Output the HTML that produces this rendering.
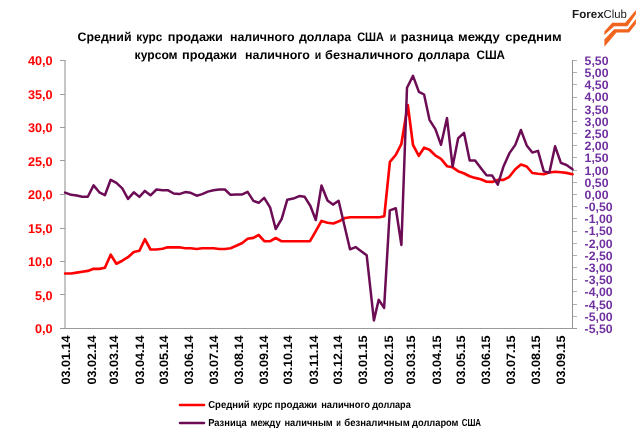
<!DOCTYPE html>
<html lang="ru"><head><meta charset="utf-8"><title>ForexClub</title>
<style>
html,body{margin:0;padding:0;background:#fff;}
body{width:644px;height:433px;overflow:hidden;font-family:"Liberation Sans",sans-serif;}
svg{display:block;will-change:transform}
text{font-family:"Liberation Sans",sans-serif;font-weight:bold;text-rendering:geometricPrecision}
</style></head><body>
<svg width="644" height="433" viewBox="0 0 644 433">
<rect width="644" height="433" fill="#fff"/>

<g font-size="12.3" fill="#000">
<text x="77.6" y="41.3" textLength="53.9" lengthAdjust="spacingAndGlyphs">Средний</text>
<text x="136.3" y="41.3" textLength="26.1" lengthAdjust="spacingAndGlyphs">курс</text>
<text x="167.8" y="41.3" textLength="55.0" lengthAdjust="spacingAndGlyphs">продажи</text>
<text x="230.0" y="41.3" textLength="64.6" lengthAdjust="spacingAndGlyphs">наличного</text>
<text x="298.9" y="41.3" textLength="52.4" lengthAdjust="spacingAndGlyphs">доллара</text>
<text x="357.2" y="41.3" textLength="26.7" lengthAdjust="spacingAndGlyphs">США</text>
<text x="389.8" y="41.3" textLength="6.5" lengthAdjust="spacingAndGlyphs">и</text>
<text x="400.7" y="41.3" textLength="52.8" lengthAdjust="spacingAndGlyphs">разница</text>
<text x="458.0" y="41.3" textLength="41.8" lengthAdjust="spacingAndGlyphs">между</text>
<text x="505.3" y="41.3" textLength="56.3" lengthAdjust="spacingAndGlyphs">средним</text>
<text x="134.6" y="58.7" textLength="43.0" lengthAdjust="spacingAndGlyphs">курсом</text>
<text x="182.0" y="58.7" textLength="55.0" lengthAdjust="spacingAndGlyphs">продажи</text>
<text x="245.0" y="58.7" textLength="64.8" lengthAdjust="spacingAndGlyphs">наличного</text>
<text x="314.8" y="58.7" textLength="6.5" lengthAdjust="spacingAndGlyphs">и</text>
<text x="325.0" y="58.7" textLength="88.3" lengthAdjust="spacingAndGlyphs">безналичного</text>
<text x="418.0" y="58.7" textLength="51.6" lengthAdjust="spacingAndGlyphs">доллара</text>
<text x="476.5" y="58.7" textLength="28.5" lengthAdjust="spacingAndGlyphs">США</text>
</g>
<g shape-rendering="crispEdges">
<rect x="64" y="60" width="2" height="269" fill="#c6c6c6"/>
<rect x="572" y="60" width="1" height="269" fill="#939393"/>
<rect x="60" y="328" width="517" height="1" fill="#9a9a9a"/>
<rect x="60" y="60" width="5" height="1" fill="#9c9c9c"/>
<rect x="60" y="94" width="5" height="1" fill="#9c9c9c"/>
<rect x="60" y="127" width="5" height="1" fill="#9c9c9c"/>
<rect x="60" y="160" width="5" height="1" fill="#9c9c9c"/>
<rect x="60" y="194" width="5" height="1" fill="#9c9c9c"/>
<rect x="60" y="228" width="5" height="1" fill="#9c9c9c"/>
<rect x="60" y="261" width="5" height="1" fill="#9c9c9c"/>
<rect x="60" y="294" width="5" height="1" fill="#9c9c9c"/>
<rect x="573" y="60" width="4" height="1" fill="#b0b0b0"/>
<rect x="573" y="72" width="4" height="1" fill="#b0b0b0"/>
<rect x="573" y="84" width="4" height="1" fill="#b0b0b0"/>
<rect x="573" y="97" width="4" height="1" fill="#b0b0b0"/>
<rect x="573" y="109" width="4" height="1" fill="#b0b0b0"/>
<rect x="573" y="121" width="4" height="1" fill="#b0b0b0"/>
<rect x="573" y="133" width="4" height="1" fill="#b0b0b0"/>
<rect x="573" y="145" width="4" height="1" fill="#b0b0b0"/>
<rect x="573" y="157" width="4" height="1" fill="#b0b0b0"/>
<rect x="573" y="170" width="4" height="1" fill="#b0b0b0"/>
<rect x="573" y="182" width="4" height="1" fill="#b0b0b0"/>
<rect x="573" y="194" width="4" height="1" fill="#b0b0b0"/>
<rect x="573" y="206" width="4" height="1" fill="#b0b0b0"/>
<rect x="573" y="218" width="4" height="1" fill="#b0b0b0"/>
<rect x="573" y="231" width="4" height="1" fill="#b0b0b0"/>
<rect x="573" y="243" width="4" height="1" fill="#b0b0b0"/>
<rect x="573" y="255" width="4" height="1" fill="#b0b0b0"/>
<rect x="573" y="267" width="4" height="1" fill="#b0b0b0"/>
<rect x="573" y="279" width="4" height="1" fill="#b0b0b0"/>
<rect x="573" y="291" width="4" height="1" fill="#b0b0b0"/>
<rect x="573" y="304" width="4" height="1" fill="#b0b0b0"/>
<rect x="573" y="316" width="4" height="1" fill="#b0b0b0"/>
</g>
<g font-size="12.7" fill="#ff0000" text-anchor="end">
<text x="52.6" y="65.0">40,0</text>
<text x="52.6" y="98.5">35,0</text>
<text x="52.6" y="132.0">30,0</text>
<text x="52.6" y="165.5">25,0</text>
<text x="52.6" y="199.0">20,0</text>
<text x="52.6" y="232.5">15,0</text>
<text x="52.6" y="266.0">10,0</text>
<text x="52.6" y="299.5">5,0</text>
<text x="52.6" y="333.0">0,0</text>
</g>
<g font-size="12.3" fill="#7030a0">
<text x="584.6" y="64.9">5,50</text>
<text x="584.6" y="77.1">5,00</text>
<text x="584.6" y="89.3">4,50</text>
<text x="584.6" y="101.4">4,00</text>
<text x="584.6" y="113.6">3,50</text>
<text x="584.6" y="125.8">3,00</text>
<text x="584.6" y="138.0">2,50</text>
<text x="584.6" y="150.2">2,00</text>
<text x="584.6" y="162.4">1,50</text>
<text x="584.6" y="174.5">1,00</text>
<text x="584.6" y="186.7">0,50</text>
<text x="584.6" y="198.9">0,00</text>
<text x="584.6" y="211.1">-0,50</text>
<text x="584.6" y="223.3">-1,00</text>
<text x="584.6" y="235.4">-1,50</text>
<text x="584.6" y="247.6">-2,00</text>
<text x="584.6" y="259.8">-2,50</text>
<text x="584.6" y="272.0">-3,00</text>
<text x="584.6" y="284.2">-3,50</text>
<text x="584.6" y="296.4">-4,00</text>
<text x="584.6" y="308.5">-4,50</text>
<text x="584.6" y="320.7">-5,00</text>
<text x="584.6" y="332.9">-5,50</text>
</g>
<g font-size="12.2" fill="#000">
<text transform="translate(70.4,384.4) rotate(-90)" textLength="49" lengthAdjust="spacingAndGlyphs">03.01.14</text>
<text transform="translate(95.6,384.4) rotate(-90)" textLength="49" lengthAdjust="spacingAndGlyphs">03.02.14</text>
<text transform="translate(118.4,384.4) rotate(-90)" textLength="49" lengthAdjust="spacingAndGlyphs">03.03.14</text>
<text transform="translate(143.6,384.4) rotate(-90)" textLength="49" lengthAdjust="spacingAndGlyphs">03.04.14</text>
<text transform="translate(168.0,384.4) rotate(-90)" textLength="49" lengthAdjust="spacingAndGlyphs">03.05.14</text>
<text transform="translate(193.2,384.4) rotate(-90)" textLength="49" lengthAdjust="spacingAndGlyphs">03.06.14</text>
<text transform="translate(217.6,384.4) rotate(-90)" textLength="49" lengthAdjust="spacingAndGlyphs">03.07.14</text>
<text transform="translate(242.8,384.4) rotate(-90)" textLength="49" lengthAdjust="spacingAndGlyphs">03.08.14</text>
<text transform="translate(268.0,384.4) rotate(-90)" textLength="49" lengthAdjust="spacingAndGlyphs">03.09.14</text>
<text transform="translate(292.4,384.4) rotate(-90)" textLength="49" lengthAdjust="spacingAndGlyphs">03.10.14</text>
<text transform="translate(317.6,384.4) rotate(-90)" textLength="49" lengthAdjust="spacingAndGlyphs">03.11.14</text>
<text transform="translate(342.0,384.4) rotate(-90)" textLength="49" lengthAdjust="spacingAndGlyphs">03.12.14</text>
<text transform="translate(367.3,384.4) rotate(-90)" textLength="49" lengthAdjust="spacingAndGlyphs">03.01.15</text>
<text transform="translate(392.5,384.4) rotate(-90)" textLength="49" lengthAdjust="spacingAndGlyphs">03.02.15</text>
<text transform="translate(415.2,384.4) rotate(-90)" textLength="49" lengthAdjust="spacingAndGlyphs">03.03.15</text>
<text transform="translate(440.5,384.4) rotate(-90)" textLength="49" lengthAdjust="spacingAndGlyphs">03.04.15</text>
<text transform="translate(464.9,384.4) rotate(-90)" textLength="49" lengthAdjust="spacingAndGlyphs">03.05.15</text>
<text transform="translate(490.1,384.4) rotate(-90)" textLength="49" lengthAdjust="spacingAndGlyphs">03.06.15</text>
<text transform="translate(514.5,384.4) rotate(-90)" textLength="49" lengthAdjust="spacingAndGlyphs">03.07.15</text>
<text transform="translate(539.7,384.4) rotate(-90)" textLength="49" lengthAdjust="spacingAndGlyphs">03.08.15</text>
<text transform="translate(564.9,384.4) rotate(-90)" textLength="49" lengthAdjust="spacingAndGlyphs">03.09.15</text>
</g>
<polyline fill="none" stroke="#ff0000" stroke-width="2.65" stroke-linejoin="round" stroke-linecap="round" points="65.1,273.5 71.1,273.5 76.7,272.6 82.2,271.8 87.8,270.9 93.6,268.7 99.3,268.9 104.9,267.8 110.7,254.7 116.4,263.7 122.3,260.7 128.0,257.2 133.8,252.0 139.4,250.8 144.9,239.2 150.5,249.5 156.5,249.5 162.5,248.7 167.7,247.3 173.7,247.3 179.3,247.3 185.1,248.2 190.7,248.2 196.7,249.0 202.2,248.3 207.8,248.2 213.5,248.2 219.3,249.0 224.9,249.0 230.5,248.2 236.3,245.7 242.3,243.0 247.6,238.8 253.4,237.9 258.7,235.0 264.3,241.2 270.2,241.2 275.7,238.0 281.3,241.2 287.3,241.2 293.3,241.2 299.3,241.2 304.7,241.2 310.0,241.2 315.8,231.2 321.5,220.9 327.5,222.7 333.4,223.5 338.9,221.3 344.9,218.0 350.5,217.2 355.6,217.2 361.2,217.2 366.7,217.2 373.0,217.2 379.5,217.2 384.3,216.2 389.9,161.8 395.7,155.0 401.3,144.2 407.8,105.0 413.0,144.8 418.8,155.8 424.1,147.7 429.5,149.8 435.2,155.3 441.0,158.8 447.0,166.2 452.6,167.3 458.1,171.2 463.7,173.2 469.7,176.3 475.1,177.9 480.8,179.2 486.6,181.7 492.2,181.9 497.8,179.9 503.6,179.9 509.3,176.8 515.3,169.2 520.9,164.5 526.7,166.5 532.3,173.0 538.0,173.7 543.8,174.2 549.4,172.5 555.1,171.8 560.9,172.3 566.5,172.9 572.5,174.2"/>
<polyline fill="none" stroke="#6c0c54" stroke-width="2.5" stroke-linejoin="round" stroke-linecap="round" points="65.1,192.6 71.1,194.8 76.7,195.5 82.2,196.7 87.8,196.7 93.6,185.4 99.3,192.3 104.9,195.2 110.7,179.8 116.4,182.9 122.3,188.3 128.0,198.9 133.8,192.3 139.4,196.9 144.9,190.9 150.5,195.3 156.5,189.5 162.5,190.2 167.7,190.2 173.7,193.5 179.3,194.1 185.1,192.1 190.7,192.8 196.7,195.7 202.2,194.1 207.8,191.6 213.5,190.2 219.3,189.5 224.9,189.5 230.5,194.8 236.3,194.4 242.3,194.4 247.6,191.9 253.4,200.9 258.7,202.8 264.2,197.8 270.2,207.7 275.7,229.0 281.7,218.8 287.3,199.7 293.3,198.6 299.3,196.1 304.7,196.8 310.4,206.0 315.8,220.0 321.5,185.5 327.5,200.5 332.9,204.6 338.6,200.8 344.3,225.0 350.0,249.3 355.6,247.1 361.2,251.2 366.7,255.3 373.9,320.4 378.7,299.7 384.1,307.9 389.8,210.4 395.8,208.3 401.4,245.0 407.0,87.8 413.0,75.9 418.9,91.9 424.1,94.5 429.5,119.8 435.5,129.3 441.0,144.8 447.0,118.1 452.6,166.5 458.1,138.4 464.0,132.8 469.7,160.5 475.1,160.4 480.8,168.0 486.5,175.3 492.2,175.6 497.8,184.7 503.6,166.2 509.3,153.4 515.3,144.9 520.9,130.0 526.7,145.4 532.3,152.6 538.0,150.9 543.8,171.4 549.4,172.6 555.1,146.3 560.9,162.8 566.5,165.0 572.5,169.3"/>
<line x1="180" y1="405" x2="204" y2="405" stroke="#ff0000" stroke-width="2.65" stroke-linecap="round"/>
<line x1="180" y1="423" x2="204" y2="423" stroke="#6c0c54" stroke-width="2.5" stroke-linecap="round"/>
<g font-size="10.2" fill="#000">
<text x="208.2" y="408.2" textLength="41.5" lengthAdjust="spacingAndGlyphs">Средний</text>
<text x="252.9" y="408.2" textLength="19.6" lengthAdjust="spacingAndGlyphs">курс</text>
<text x="274.5" y="408.2" textLength="42.7" lengthAdjust="spacingAndGlyphs">продажи</text>
<text x="321.2" y="408.2" textLength="48.7" lengthAdjust="spacingAndGlyphs">наличного</text>
<text x="372.3" y="408.2" textLength="38.4" lengthAdjust="spacingAndGlyphs">доллара</text>
<text x="208.2" y="426.2" textLength="38.5" lengthAdjust="spacingAndGlyphs">Разница</text>
<text x="250.4" y="426.2" textLength="30.3" lengthAdjust="spacingAndGlyphs">между</text>
<text x="284.5" y="426.2" textLength="48.2" lengthAdjust="spacingAndGlyphs">наличным</text>
<text x="336.2" y="426.2" textLength="4.6" lengthAdjust="spacingAndGlyphs">и</text>
<text x="344.3" y="426.2" textLength="65.5" lengthAdjust="spacingAndGlyphs">безналичным</text>
<text x="412.1" y="426.2" textLength="46.4" lengthAdjust="spacingAndGlyphs">долларом</text>
<text x="461.7" y="426.2" textLength="19.3" lengthAdjust="spacingAndGlyphs">США</text>
</g>
<g font-size="11.6" fill="#1a1a1a">
<text x="572.1" y="17.8">Forex</text>
<text x="603.5" y="17.8" textLength="23.3" lengthAdjust="spacingAndGlyphs" style="font-weight:normal">Club</text>
</g>
<g fill="#f0641e">
<polygon points="604.4,31.4 612.2,22.7 625.3,22.7 635.9,9.9 635.9,14.2 627.4,26.2 614.1,26.2 604.4,35.1"/>
<polygon points="604.4,39.4 614.1,29.3 627.7,29.3 635.9,19.1 635.9,23.9 629.1,32.6 616.5,32.6 604.4,46.7"/>
</g>
</svg>
</body></html>
